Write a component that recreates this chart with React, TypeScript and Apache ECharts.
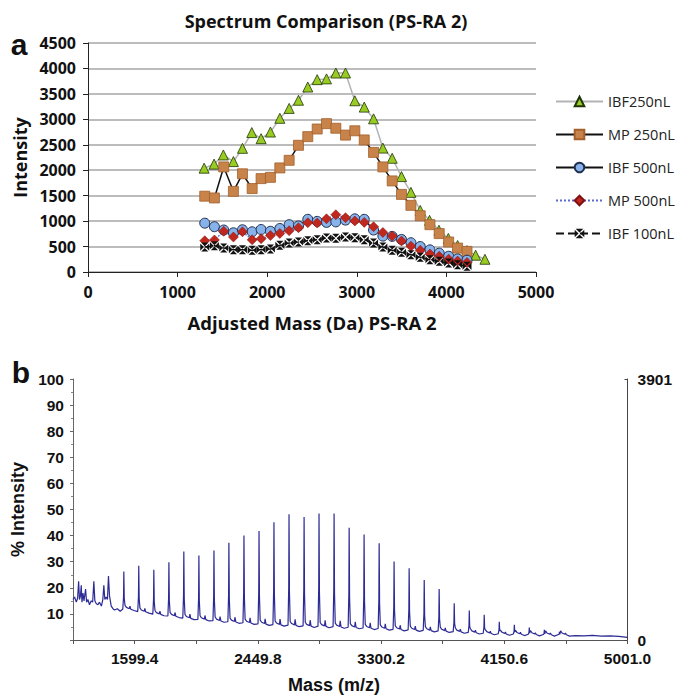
import React, { useEffect, useRef } from "react";
import * as echarts from "echarts";

// ---------- Panel a data ----------
const seriesNames = ["IBF250nL", "MP 250nL", "IBF 500nL", "MP 500nL", "IBF 100nL"];
const massIBF250 = [1296, 1407, 1511, 1623, 1724, 1828, 1932, 2036, 2141, 2245, 2349, 2453, 2558, 2662, 2766, 2874, 2978, 3083, 3187, 3291, 3395, 3499, 3604, 3708, 3812, 3917, 4021, 4125, 4230, 4326, 4430];
const ibf250 = [2040, 2120, 2300, 2170, 2430, 2740, 2620, 2750, 3020, 3215, 3375, 3635, 3780, 3795, 3910, 3910, 3365, 3240, 3010, 2435, 2235, 1875, 1565, 1210, 1015, 820, 660, 520, 420, 330, 250];
const massOther = [1303, 1411, 1515, 1623, 1724, 1832, 1932, 2036, 2141, 2245, 2349, 2453, 2558, 2662, 2766, 2874, 2978, 3083, 3187, 3291, 3395, 3499, 3604, 3708, 3816, 3920, 4025, 4125, 4230];
const mp250 = [1490, 1455, 2065, 1585, 1930, 1640, 1835, 1860, 2045, 2195, 2490, 2660, 2810, 2915, 2825, 2690, 2775, 2595, 2350, 2065, 1790, 1525, 1310, 1105, 930, 755, 590, 470, 405];
const ibf500 = [960, 890, 825, 770, 830, 790, 835, 800, 855, 930, 905, 1035, 995, 975, 985, 1020, 1045, 1035, 825, 705, 700, 640, 575, 500, 435, 370, 310, 258, 232];
const mp500 = [615, 630, 800, 688, 790, 633, 655, 715, 758, 812, 870, 968, 962, 1045, 1126, 1067, 1002, 975, 890, 778, 706, 610, 508, 426, 354, 309, 252, 215, 188];
const ibf100 = [490, 517, 472, 439, 439, 426, 439, 452, 524, 570, 590, 616, 635, 668, 661, 688, 675, 635, 570, 491, 426, 386, 340, 288, 242, 209, 177, 144, 111];

// ---------- Panel b data ----------
const specStart: [number, number][] = [
  [1174.2, 15.5], [1185, 16.5], [1197, 14.5], [1206, 16], [1213, 22.5], [1219, 15.5], [1226, 17], [1231, 21],
  [1236, 14.5], [1243, 18], [1250, 15], [1261, 19.5], [1268, 14.5], [1277, 15.5], [1288, 13.5], [1300, 15],
  [1310, 14.5], [1318, 22.5], [1325, 15], [1334, 14], [1346, 13.5], [1357, 14.5], [1370, 13], [1380, 15.5],
  [1387, 21], [1394, 15.5], [1403, 16.5], [1412, 15.5], [1419, 24.5], [1426, 17], [1438, 13], [1450, 12],
  [1461, 11.5], [1480, 12], [1500, 11],
];
const peakMass = [1525, 1628, 1732, 1836, 1939, 2043, 2147, 2250, 2354, 2458, 2561, 2665, 2769, 2872, 2976, 3080, 3183, 3287, 3390, 3494, 3598, 3701, 3805, 3909, 4012, 4116, 4220, 4323, 4427, 4531];
const peakHeight = [26.2, 28.4, 26.9, 29.8, 33.9, 32.4, 34.3, 37.3, 40.0, 41.8, 45.1, 48.2, 47.1, 48.5, 48.5, 43.0, 40.4, 37.1, 30.1, 27.5, 23.0, 19.5, 14.1, 11.3, 9.7, 7.0, 5.8, 4.8, 3.9, 3.1];
const peakBase = [11.5, 10.5, 9.5, 8.8, 8.0, 7.5, 7.0, 6.6, 6.2, 5.8, 5.5, 5.3, 5.0, 4.9, 4.7, 4.5, 4.2, 4.0, 3.7, 3.5, 3.3, 3.1, 2.8, 2.5, 2.2, 2.0, 1.9, 1.8, 1.7, 1.7];
const specEnd: [number, number][] = [[4640, 1.7], [4700, 1.6], [4760, 1.8], [4820, 1.5], [4880, 1.6], [4940, 1.4], [5001, 1.0]];
const xTickLabelsB = ["1599.4", "2449.8", "3300.2", "4150.6", "5001.0"];

function buildSpectrum(): [number, number][] {
  const pts: [number, number][] = [...specStart];
  peakMass.forEach((m, i) => {
    const h = peakHeight[i];
    const b = peakBase[i];
    pts.push([m - 7, b + 0.4]);
    pts.push([m - 2, b + (h - b) * 0.35]);
    pts.push([m, h]);
    pts.push([m + 3, b + (h - b) * 0.3]);
    pts.push([m + 8, b + 1.8]);
    pts.push([m + 18, b + 1.0]);
    pts.push([m + 38, b + 0.5]);
    pts.push([m + 42, b + 0.9 + (h - b) * 0.04]);
    pts.push([m + 48, b + 0.3]);
    pts.push([m + 70, b - 0.2]);
  });
  return pts.concat(specEnd);
}

const fA = "'Open Sans', 'DejaVu Sans', sans-serif";
const fB = "'Liberation Sans', Arial, sans-serif";
const crossPath = "path://M1,0L9,0L5,4Z M10,1L10,9L6,5Z M9,10L1,10L5,6Z M0,9L0,1L4,5Z";
const plain = (v: number) => String(v);

export default function App() {
  const ref = useRef<HTMLDivElement>(null);
  useEffect(() => {
    if (!ref.current) return;
    const chart = echarts.init(ref.current, null, { renderer: "svg" });
    const pair = (xs: number[], ys: number[]) => ys.map((v, i) => [xs[i], v]);
    const option: any = {
      animation: false,
      backgroundColor: "#ffffff",
      graphic: [
        { type: "text", x: 326, y: 21, style: { text: "Spectrum Comparison (PS-RA 2)", align: "center", verticalAlign: "middle", font: `bold 18px ${fA}`, fill: "#111" } },
        { type: "text", x: 19, y: 44, style: { text: "a", align: "center", verticalAlign: "middle", font: `bold 30px ${fB}`, fill: "#111" } },
        { type: "text", x: 21, y: 372, style: { text: "b", align: "center", verticalAlign: "middle", font: `bold 30px ${fB}`, fill: "#111" } },
        { type: "text", x: 334, y: 685, style: { text: "Mass (m/z)", align: "center", verticalAlign: "middle", font: `bold 18px ${fB}`, fill: "#111" } },
      ],
      legend: {
        data: seriesNames,
        orient: "vertical",
        left: 550,
        top: 89,
        itemWidth: 47,
        itemHeight: 12,
        itemGap: 18,
        textStyle: { fontFamily: fA, fontSize: 14.5, color: "#222" },
      },
      grid: [
        { left: 88, top: 43, width: 448, height: 229 },
        { left: 73, top: 379, width: 557, height: 261 },
      ],
      xAxis: [
        {
          gridIndex: 0, type: "value", min: 0, max: 5000, interval: 1000,
          name: "Adjusted Mass (Da) PS-RA 2", nameLocation: "middle", nameGap: 41,
          nameTextStyle: { fontFamily: fA, fontWeight: "bold", fontSize: 18.5, color: "#111" },
          axisLine: { show: true, lineStyle: { color: "#222", width: 1 } },
          axisTick: { show: true, length: 5, lineStyle: { color: "#222" } },
          axisLabel: { fontFamily: fA, fontWeight: "bold", fontSize: 16, color: "#111", margin: 12, formatter: plain },
          splitLine: { show: false },
        },
        {
          gridIndex: 1, type: "value", min: 1174.2, max: 5001.0, interval: 425.2,
          axisLine: { show: true, lineStyle: { color: "#555", width: 1 } },
          axisTick: { show: true, length: 4, lineStyle: { color: "#555" } },
          axisLabel: {
            fontFamily: fB, fontWeight: "bold", fontSize: 15.5, color: "#111", margin: 10,
            formatter: (v: number) => {
              const k = Math.round((v - 1174.2) / 425.2);
              if (k % 2 === 1) return xTickLabelsB[(k - 1) / 2] ?? "";
              return "";
            },
          },
          splitLine: { show: false },
        },
      ],
      yAxis: [
        {
          gridIndex: 0, type: "value", min: 0, max: 4500, interval: 500,
          name: "Intensity", nameLocation: "middle", nameGap: 57,
          nameTextStyle: { fontFamily: fA, fontWeight: "bold", fontSize: 18, color: "#111" },
          axisLine: { show: true, lineStyle: { color: "#222", width: 1 } },
          axisTick: { show: true, length: 5, lineStyle: { color: "#222" } },
          axisLabel: { fontFamily: fA, fontWeight: "bold", fontSize: 16, color: "#111", margin: 12, formatter: plain },
          splitLine: { show: true, lineStyle: { color: "#a6a6a6", width: 1.5 } },
        },
        {
          gridIndex: 1, type: "value", min: 0, max: 100, interval: 10,
          name: "% Intensity", nameLocation: "middle", nameGap: 45,
          nameTextStyle: { fontFamily: fB, fontWeight: "bold", fontSize: 18, color: "#111" },
          axisLine: { show: true, lineStyle: { color: "#666", width: 1 } },
          axisTick: { show: true, length: 3, lineStyle: { color: "#666" } },
          minorTick: { show: true, splitNumber: 2, length: 2, lineStyle: { color: "#888" } },
          axisLabel: { fontFamily: fB, fontWeight: "bold", fontSize: 15.5, color: "#111", margin: 9, formatter: (v: number) => (v === 0 ? "" : String(v)) },
          splitLine: { show: false },
        },
        {
          gridIndex: 1, type: "value", min: 0, max: 3901, interval: 3901, position: "right",
          axisLine: { show: true, lineStyle: { color: "#444", width: 1 } },
          axisTick: { show: true, inside: true, length: 3, lineStyle: { color: "#444" } },
          axisLabel: { fontFamily: fB, fontWeight: "bold", fontSize: 15.5, color: "#111", margin: 10, formatter: plain },
          splitLine: { show: false },
        },
      ],
      series: [
        {
          name: seriesNames[0], type: "line", xAxisIndex: 0, yAxisIndex: 0,
          data: pair(massIBF250, ibf250), symbol: "triangle", symbolSize: 10,
          lineStyle: { color: "#b3b3b3", width: 1.5 },
          itemStyle: { color: "#99cc22", borderColor: "#1e3308", borderWidth: 0.8 },
        },
        {
          name: seriesNames[1], type: "line", xAxisIndex: 0, yAxisIndex: 0,
          data: pair(massOther, mp250), symbol: "rect", symbolSize: 10,
          lineStyle: { color: "#111", width: 1.5 },
          itemStyle: { color: "#c8834a", borderColor: "#a2602c", borderWidth: 0.8 },
        },
        {
          name: seriesNames[2], type: "line", xAxisIndex: 0, yAxisIndex: 0,
          data: pair(massOther, ibf500), symbol: "circle", symbolSize: 10,
          lineStyle: { color: "#111", width: 1.5 },
          itemStyle: { color: "#88b2ea", borderColor: "#1f2f4f", borderWidth: 1 },
        },
        {
          name: seriesNames[3], type: "line", xAxisIndex: 0, yAxisIndex: 0,
          data: pair(massOther, mp500), symbol: "diamond", symbolSize: 10,
          lineStyle: { color: "#5a6ad0", width: 1.5, type: "dotted" },
          itemStyle: { color: "#c0281e", borderColor: "#801010", borderWidth: 0.5 },
        },
        {
          name: seriesNames[4], type: "line", xAxisIndex: 0, yAxisIndex: 0,
          data: pair(massOther, ibf100), symbol: crossPath, symbolSize: 9,
          lineStyle: { color: "#111", width: 1.5, type: "dashed" },
          itemStyle: { color: "#111", borderWidth: 0 },
        },
        {
          name: "spectrum", type: "line", xAxisIndex: 1, yAxisIndex: 1,
          data: buildSpectrum(), showSymbol: false, symbol: "none",
          lineStyle: { color: "#2c2a94", width: 1.2 },
        },
      ],
    };
    chart.setOption(option);
    return () => chart.dispose();
  }, []);
  return (
    <div
      ref={ref}
      style={{ position: "absolute", left: 0, top: 0, width: 675, height: 695, background: "#fff" }}
    />
  );
}
